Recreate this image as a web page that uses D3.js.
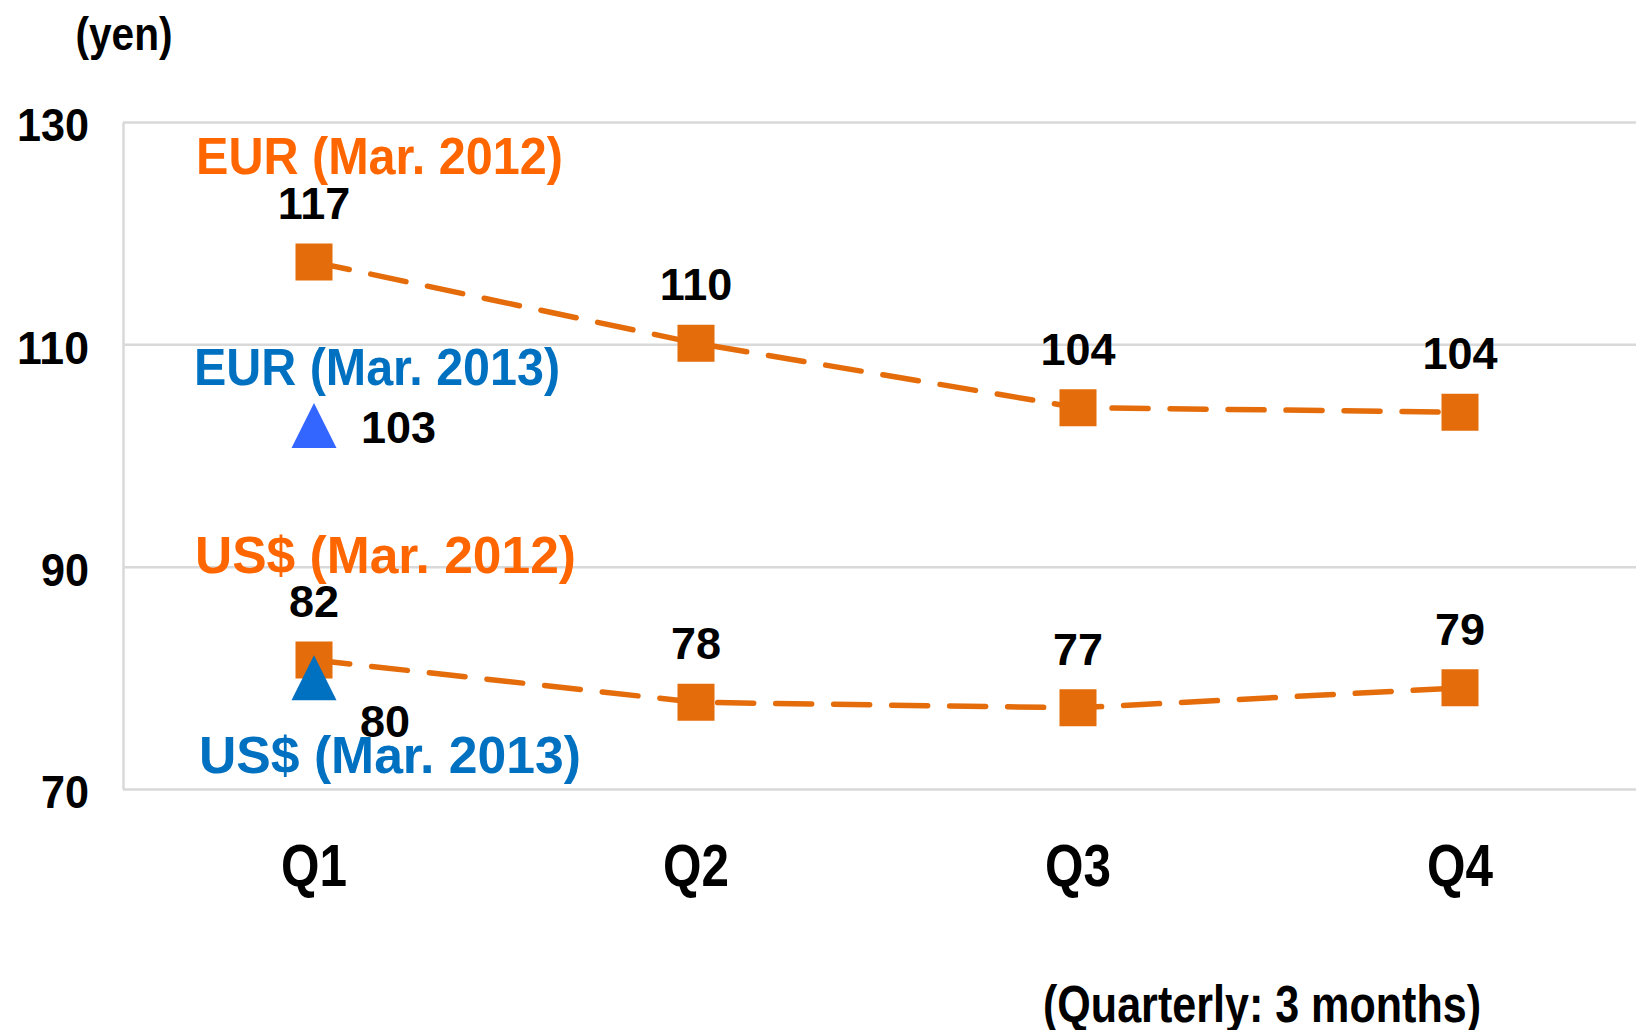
<!DOCTYPE html>
<html>
<head>
<meta charset="utf-8">
<script src="https://cdn.jsdelivr.net/npm/d3@7"></script>
<style>
  html, body { margin: 0; padding: 0; background: #fff; }
  svg { display: block; font-family: "Liberation Sans", Arial, sans-serif; }
</style>
</head>
<body>
<div class="chart__fx"><svg></svg></div>
<script>
// data
var quarters = ['Q1', 'Q2', 'Q3', 'Q4'];
var eur2012 = [117.4, 110.1, 104.3, 103.9];
var usd2012 = [81.6, 77.8, 77.3, 79.1];
var eur2013 = [102.7];   // only Q1 so far
var usd2013 = [80.0];
var yTicks = [70, 90, 110, 130];
var seriesNames = ['EUR (Mar. 2012)', 'US$ (Mar. 2012)', 'EUR (Mar. 2013)', 'US$ (Mar. 2013)'];
var yUnit = '(yen)';
var xNote = '(Quarterly: 3 months)';

(function() {

	var width = 1636;
	var height = 1030;
	var plot = { left: 123, right: 1636, top: 122, bottom: 789 };
	var scales = {};

	var lineColor = '#E46C0A';
	var orange = '#FF6600';
	var blue = '#0070C0';
	var brightBlue = '#3366FF';
	var gridColor = '#D9D9D9';

	var svg = d3.select('.chart__fx svg')
		.attr('width', width)
		.attr('height', height);

	var fmt = d3.format('.0f');

	// triangle as a symbol type so it sits centred on its value
	var triangle = {
		draw: function(ctx, size) {
			var w = Math.sqrt(size);
			ctx.moveTo(0, -w / 2);
			ctx.lineTo(w / 2, w / 2);
			ctx.lineTo(-w / 2, w / 2);
			ctx.closePath();
		}
	};

	function setupScales() {
		scales.x = d3.scaleBand().domain(quarters).range([plot.left, plot.left + 4 * 382]);
		scales.y = d3.scaleLinear().domain([70, 130]).range([plot.bottom, plot.top]);
	}

	function xPos(i) {
		return scales.x(quarters[i]) + scales.x.bandwidth() / 2;
	}

	function drawAxes() {
		var axisY = d3.axisLeft(scales.y)
			.tickValues(yTicks)
			.tickSizeInner(-(plot.right - plot.left))
			.tickSizeOuter(0)
			.tickPadding(34)
			.tickFormat(d3.format('d'));

		var gy = svg.append('g')
			.attr('class', 'axis axis--y')
			.attr('transform', 'translate(' + plot.left + ',0)')
			.call(axisY);

		gy.selectAll('line, path').attr('stroke', gridColor).attr('stroke-width', 2.5);
		gy.selectAll('text')
			.attr('dy', '0.4em')
			.attr('fill', '#000')
			.style('font-size', '47px')
			.style('font-weight', 'bold');
		gy.selectAll('text').attr('textLength', function(d) { return String(d).length * 24 })
			.attr('lengthAdjust', 'spacingAndGlyphs');

		var axisX = d3.axisBottom(scales.x).tickSize(0).tickPadding(54);

		var gx = svg.append('g')
			.attr('class', 'axis axis--x')
			.attr('transform', 'translate(0,' + plot.bottom + ')')
			.call(axisX);

		gx.select('.domain').remove();
		gx.selectAll('text')
			.attr('fill', '#000')
			.attr('textLength', 66)
			.attr('lengthAdjust', 'spacingAndGlyphs')
			.style('font-size', '60px')
			.style('font-weight', 'bold');

		svg.append('text')
			.attr('class', 'label--y')
			.attr('x', 124)
			.attr('y', 50)
			.attr('text-anchor', 'middle')
			.attr('textLength', 97)
			.attr('lengthAdjust', 'spacingAndGlyphs')
			.style('font-size', '46px')
			.style('font-weight', 'bold')
			.text(yUnit);

		svg.append('text')
			.attr('class', 'label--x')
			.attr('x', 1043)
			.attr('y', 1022)
			.attr('textLength', 438)
			.attr('lengthAdjust', 'spacingAndGlyphs')
			.style('font-size', '52px')
			.style('font-weight', 'bold')
			.text(xNote);
	}

	function drawLines() {
		var line = d3.line()
			.x(function(d, i) { return xPos(i) })
			.y(function(d) { return scales.y(d) });

		[eur2012, usd2012].forEach(function(series) {
			svg.append('path')
				.attr('class', 'line')
				.attr('d', line(series))
				.attr('fill', 'none')
				.attr('stroke', lineColor)
				.attr('stroke-width', 5.5)
				.attr('stroke-linecap', 'round')
				.attr('stroke-dasharray', '36,22');

			svg.append('g').selectAll('.marker')
				.data(series)
				.enter()
				.append('path')
				.attr('class', 'marker')
				.attr('d', d3.symbol(d3.symbolSquare, 37 * 37))
				.attr('transform', function(d, i) { return 'translate(' + xPos(i) + ',' + scales.y(d) + ')' })
				.attr('fill', lineColor);
		});

		[[eur2013, brightBlue], [usd2013, blue]].forEach(function(s) {
			svg.append('g').selectAll('.tri')
				.data(s[0])
				.enter()
				.append('path')
				.attr('class', 'tri')
				.attr('d', d3.symbol(triangle, 45 * 45))
				.attr('transform', function(d, i) { return 'translate(' + xPos(i) + ',' + scales.y(d) + ')' })
				.attr('fill', s[1]);
		});
	}

	function drawLabels() {
		// series names, placed relative to the Q1 point of each series
		var notes = [
			{ text: seriesNames[0], v: eur2012[0], color: orange, dx: -118, dy: -88, w: 367 },
			{ text: seriesNames[1], v: usd2012[0], color: orange, dx: -119, dy: -87, w: 381 },
			{ text: seriesNames[2], v: eur2013[0], color: blue, dx: -120, dy: -40, w: 366 },
			{ text: seriesNames[3], v: usd2013[0], color: blue, dx: -115, dy: 95, w: 382 }
		];

		svg.append('g').selectAll('.series-name')
			.data(notes)
			.enter()
			.append('text')
			.attr('class', 'series-name')
			.attr('x', function(d) { return xPos(0) + d.dx })
			.attr('y', function(d) { return scales.y(d.v) + d.dy })
			.attr('textLength', function(d) { return d.w })
			.attr('lengthAdjust', 'spacingAndGlyphs')
			.attr('fill', function(d) { return d.color })
			.style('font-size', '52px')
			.style('font-weight', 'bold')
			.text(function(d) { return d.text });

		// value labels above the 2012 points
		[eur2012, usd2012].forEach(function(series) {
			svg.append('g').selectAll('.value')
				.data(series)
				.enter()
				.append('text')
				.attr('class', 'value')
				.attr('x', function(d, i) { return xPos(i) })
				.attr('y', function(d) { return scales.y(d) - 43 })
				.attr('text-anchor', 'middle')
				.style('font-size', '45px')
				.style('font-weight', 'bold')
				.text(function(d) { return fmt(d) });
		});

		// 2013 labels sit to the right of the triangles
		svg.append('text')
			.attr('class', 'value')
			.attr('x', xPos(0) + 47)
			.attr('y', scales.y(eur2013[0]) + 18)
			.style('font-size', '45px')
			.style('font-weight', 'bold')
			.text(fmt(eur2013[0]));

		svg.append('text')
			.attr('class', 'value')
			.attr('x', xPos(0) + 46)
			.attr('y', scales.y(usd2013[0]) + 59)
			.style('font-size', '45px')
			.style('font-weight', 'bold')
			.text(fmt(usd2013[0]));
	}

	function init() {
		setupScales();
		drawAxes();
		drawLines();
		drawLabels();
	}

	init();
})();
</script>
</body>
</html>
